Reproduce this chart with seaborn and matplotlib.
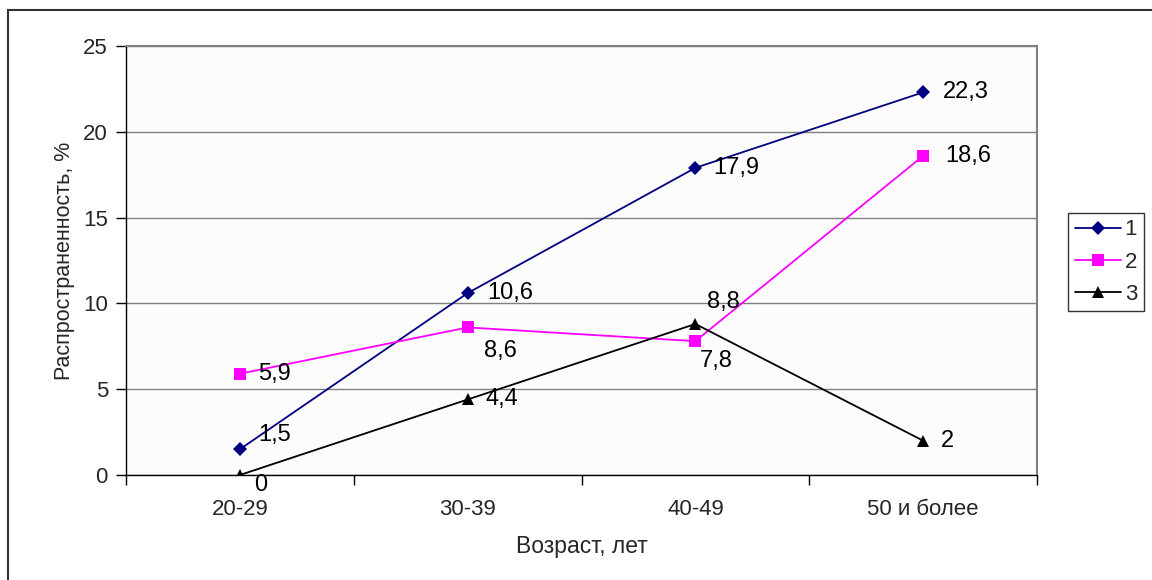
import seaborn as sns
import matplotlib.pyplot as plt
import pandas as pd
from matplotlib.patches import Rectangle

# данные
ages = ['20-29', '30-39', '40-49', '50 и более']
s1 = [1.5, 10.6, 17.9, 22.3]
s2 = [5.9, 8.6, 7.8, 18.6]
s3 = [0, 4.4, 8.8, 2]
series_names = ['1', '2', '3']

# смещения подписей (пиксели)
label_offsets = {
    '1': [(18, 14), (20, 0), (18, 0), (20, 0)],
    '2': [(18, 0), (16, -24), (4, -20), (22, 0)],
    '3': [(14, -10), (18, 0), (12, 22), (18, 0)],
}

df = pd.DataFrame({
    'age': ages * 3,
    'val': s1 + s2 + s3,
    'ser': sum([[n] * len(ages) for n in series_names], []),
})

sns.set_style('white')
plt.rcParams['font.family'] = ['Liberation Sans', 'DejaVu Sans']

fig = plt.figure(figsize=(11.52, 5.8), dpi=100)
ax = fig.add_axes([126 / 1152, 1 - 475 / 580, (1037 - 126) / 1152, (475 - 46) / 580])
ax.set_facecolor('#fcfcfc')

palette = {'1': '#000080', '2': '#ff00ff', '3': '#000000'}
markers = {'1': 'D', '2': 's', '3': '^'}
sizes = {'1': 7, '2': 8, '3': 9}

sns.lineplot(data=df, x='age', y='val', hue='ser', style='ser', palette=palette,
             markers=markers, dashes=False, markersize=7, linewidth=1.3,
             markeredgewidth=0, ax=ax, sort=False)

for line, n in zip(ax.lines, series_names):
    line.set_markersize(sizes[n])

vals = {'1': s1, '2': s2, '3': s3}
for n in series_names:
    for i, v in enumerate(vals[n]):
        txt = str(v).replace('.', ',') if v != int(v) else str(int(v))
        ax.annotate(txt, (i, v), xytext=label_offsets[n][i], textcoords='offset pixels',
                    ha='left', va='center', fontsize=17, color='black')

ax.set_xlim(-0.5, 3.5)
ax.set_ylim(0, 25)
ax.set_yticks(range(0, 26, 5))
ax.yaxis.grid(True, color='#808080', linewidth=1)
ax.set_axisbelow(True)
ax.set_xticks(range(4))
ax.set_xticklabels(ages)
ax.set_xticks([-0.5, 0.5, 1.5, 2.5, 3.5], minor=True)
ax.tick_params(axis='x', which='major', length=0, labelsize=16, pad=17)
ax.tick_params(axis='x', which='minor', length=7, width=1, color='black', direction='out', bottom=True)
ax.tick_params(axis='y', length=7, width=1, color='black', direction='out', labelsize=16, left=True, pad=6)

for side in ['left', 'bottom']:
    ax.spines[side].set_color('black')
    ax.spines[side].set_linewidth(1)
for side in ['top', 'right']:
    ax.spines[side].set_color('#808080')
    ax.spines[side].set_linewidth(1.5)

ax.set_xlabel('Возраст, лет', fontsize=16.5, labelpad=11)
ax.set_ylabel('Распространенность, %', fontsize=15.5, labelpad=6)

handles, labels = ax.get_legend_handles_labels()
ax.get_legend().remove()
leg = fig.legend(handles, labels, loc='center left', bbox_to_anchor=(1068 / 1152, 1 - 262 / 580),
                 frameon=True, fancybox=False, fontsize=16, handlelength=2.1,
                 borderpad=0.3, labelspacing=0.5, handletextpad=0.15, borderaxespad=0)
leg.get_frame().set_edgecolor('black')
leg.get_frame().set_linewidth(1)
for h, n in zip(leg.legend_handles, series_names):
    h.set_markersize(sizes[n])
    h.set_markeredgewidth(0)
    h.set_linewidth(1.3)

# внешняя рамка
fig.patches.append(Rectangle((8 / 1152, -0.1), 1.2, 1.1 - 10 / 580, transform=fig.transFigure,
                             fill=False, edgecolor='#333333', linewidth=1.5))

fig.savefig('out.png', dpi=100)
